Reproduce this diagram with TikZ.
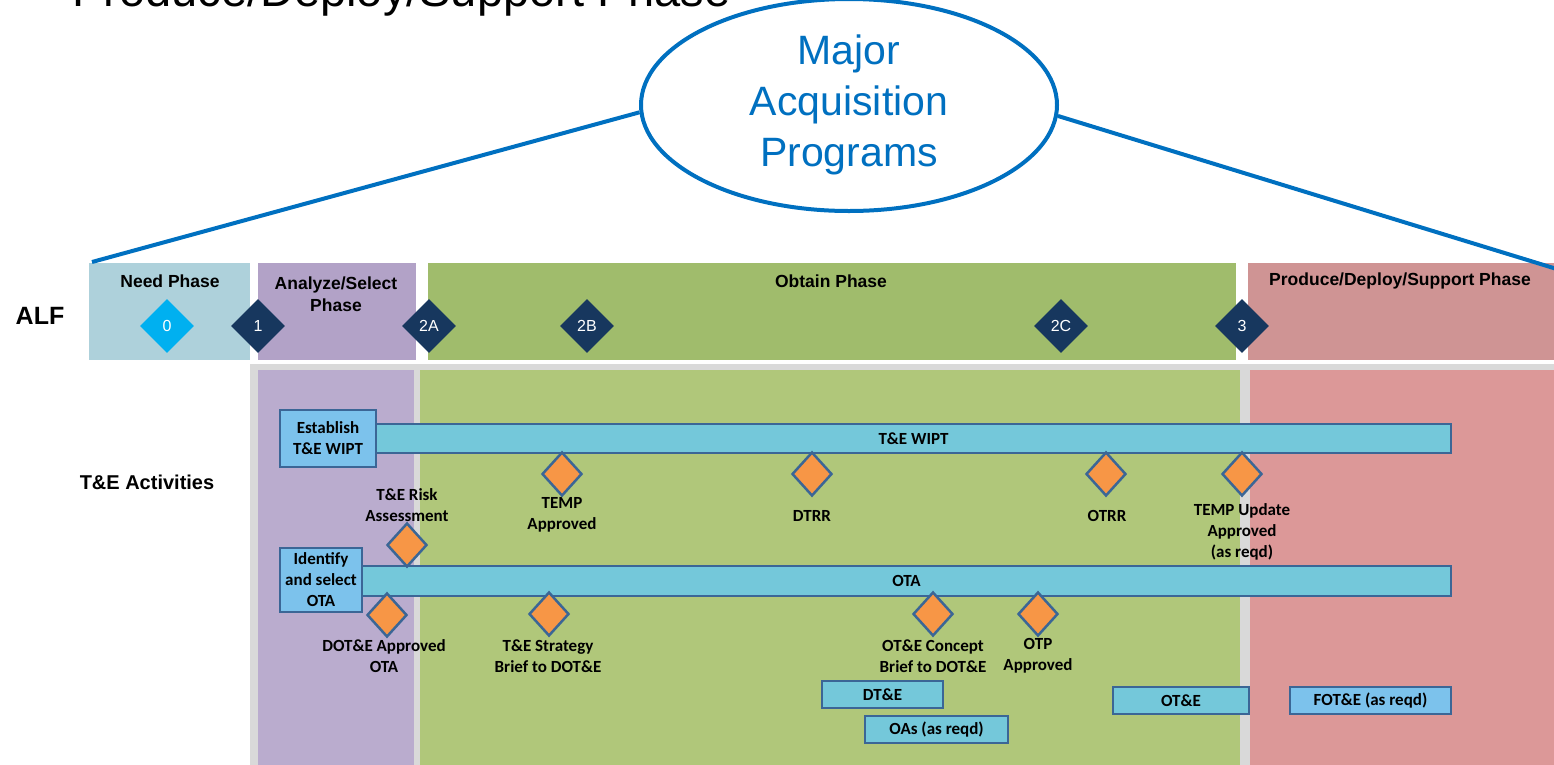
\documentclass[tikz,border=0pt]{standalone}
\usepackage{fontspec}
\setmainfont{Liberation Sans}
\newfontfamily\calfont{Carlito}
\usetikzlibrary{shapes.geometric,positioning}

\definecolor{majblue}{HTML}{0070C0}
\definecolor{needblue}{HTML}{AED1DB}
\definecolor{anapurple}{HTML}{B2A2C7}
\definecolor{anapurplelow}{HTML}{BAACCE}
\definecolor{obtgreen}{HTML}{A0BC6C}
\definecolor{obtgreenlow}{HTML}{B0C77A}
\definecolor{prodpink}{HTML}{CF9494}
\definecolor{prodpinklow}{HTML}{DC9898}
\definecolor{framegrey}{HTML}{D9D9D9}
\definecolor{gatenavy}{HTML}{17375E}
\definecolor{gatecyan}{HTML}{00B0F0}
\definecolor{barfill}{HTML}{74C8DA}
\definecolor{boxfill}{HTML}{7CC2EC}
\definecolor{edgeblue}{HTML}{3B6696}
\definecolor{evtorange}{HTML}{F79646}

\begin{document}
\begin{tikzpicture}[x=1pt,y=-1pt,
    hdr/.style={font=\bfseries\fontsize{17.5}{22}\selectfont,align=center},
    gate/.style={diamond,fill=gatenavy,text=white,minimum size=54pt,inner sep=0pt,
      font=\fontsize{16}{16}\selectfont},
    bar/.style={draw=edgeblue,line width=2.5pt,fill=barfill,inner sep=0pt,
      font=\calfont\bfseries\fontsize{17}{21}\selectfont},
    actbox/.style={bar,fill=boxfill,align=center},
    evt/.style={diamond,draw=edgeblue,line width=2.5pt,fill=evtorange,
      minimum width=40pt,minimum height=44pt,inner sep=0pt},
    evtlbl/.style={font=\calfont\bfseries\fontsize{17}{21}\selectfont,align=center,inner sep=0pt}]
  \path[use as bounding box,clip] (0,0) rectangle (1554,764);

  % heading cut off at the top
  \node[anchor=base west,inner sep=0pt,font=\fontsize{47}{47}\selectfont] (title) at (72,6)
    {Produce/Deploy/Support Phase};

  % phase bands
  \fill[needblue] (89,263) rectangle (250,360);
  \fill[anapurple] (258,263) rectangle (416,360);
  \fill[obtgreen] (428,263) rectangle (1236,360);
  \fill[prodpink] (1248,263) rectangle (1560,360);
  \fill[framegrey] (250,364) rectangle (1560,770);
  \fill[anapurplelow] (258,370) rectangle (414,770);
  \fill[obtgreenlow] (420,370) rectangle (1240,770);
  \fill[prodpinklow] (1250,370) rectangle (1560,770);

  \node[hdr] (need) at (170,281) {Need Phase};
  \node[hdr] (ana) at (336,294) {Analyze/Select\\Phase};
  \node[hdr] (obt) at (831,281) {Obtain Phase};
  \node[hdr] (prod) at (1400,281) {Produce/Deploy/Support Phase};

  \node[font=\bfseries\fontsize{25}{25}\selectfont] (alf) at (40,316) {ALF};
  \node[font=\bfseries\fontsize{20}{20}\selectfont] (te) at (147,482) {T\&E Activities};

  % milestones
  \node[gate,fill=gatecyan] (g0) at (167,326) {0};
  \foreach \x/\t/\n in {258/1/g1,429/2A/g2a,587/2B/g2b,1061/2C/g2c,1242/3/g3}
    \node[gate] (\n) at (\x,326) {\t};

  % activity bars
  \node[bar,minimum width=1075pt,minimum height=29pt] (wipt) at (913.5,438.5) {T\&E WIPT};
  \node[bar,minimum width=1089pt,minimum height=30pt] (ota) at (906.5,581) {OTA};
  \node[actbox,minimum width=96pt,minimum height=57pt] (estab) at (328,438.5) {Establish\\T\&E WIPT};
  \node[actbox,minimum width=82pt,minimum height=64pt] (ident) at (321,580) {Identify\\and select\\OTA};

  % events
  \node[evt] (etemp) at (562,474) {};
  \node[evt] (edtrr) at (812,474) {};
  \node[evt] (eotrr) at (1106,474) {};
  \node[evt] (eupd) at (1242,474) {};
  \node[evt] (erisk) at (407,545) {};
  \node[evt] (edote) at (387,615) {};
  \node[evt] (estrat) at (549,614) {};
  \node[evt] (econc) at (933,614) {};
  \node[evt] (eotp) at (1038,614) {};

  \node[evtlbl] (ltemp) at (562,515) {TEMP\\Approved};
  \node[evtlbl] (ldtrr) at (812,516) {DTRR};
  \node[evtlbl] (lotrr) at (1107,516) {OTRR};
  \node[evtlbl] (lupd) at (1242,532) {TEMP Update\\Approved\\(as reqd)};
  \node[evtlbl] (lrisk) at (407,505) {T\&E Risk\\Assessment};
  \node[evtlbl] (ldote) at (384,656) {DOT\&E Approved\\OTA};
  \node[evtlbl] (lstrat) at (548,656) {T\&E Strategy\\Brief to DOT\&E};
  \node[evtlbl] (lconc) at (933,656) {OT\&E Concept\\Brief to DOT\&E};
  \node[evtlbl] (lotp) at (1038,656) {OTP\\Approved};

  % test periods
  \node[bar,minimum width=121pt,minimum height=27pt] (dte) at (882.5,694.5) {DT\&E};
  \node[bar,minimum width=143pt,minimum height=27pt] (oas) at (936.5,729.5) {OAs (as reqd)};
  \node[bar,minimum width=136pt,minimum height=27pt] (ote) at (1181,700.5) {OT\&E};
  \node[actbox,minimum width=161pt,minimum height=27pt] (fote) at (1370.5,700.5) {FOT\&E (as reqd)};

  % callout
  \node[ellipse,draw=majblue,line width=4pt,fill=white,minimum width=416pt,minimum height=212pt,
    text=majblue,align=center,font=\fontsize{41}{51}\selectfont] (maj) at (849,105)
    {Major\\Acquisition\\Programs};
  \coordinate (lcorner) at (92,262);
  \coordinate (rcorner) at (1560,270);
  \draw[majblue,line width=4pt] (maj.182) -- (lcorner);
  \draw[majblue,line width=4pt] (maj.-3) -- (rcorner);
\end{tikzpicture}
\end{document}
